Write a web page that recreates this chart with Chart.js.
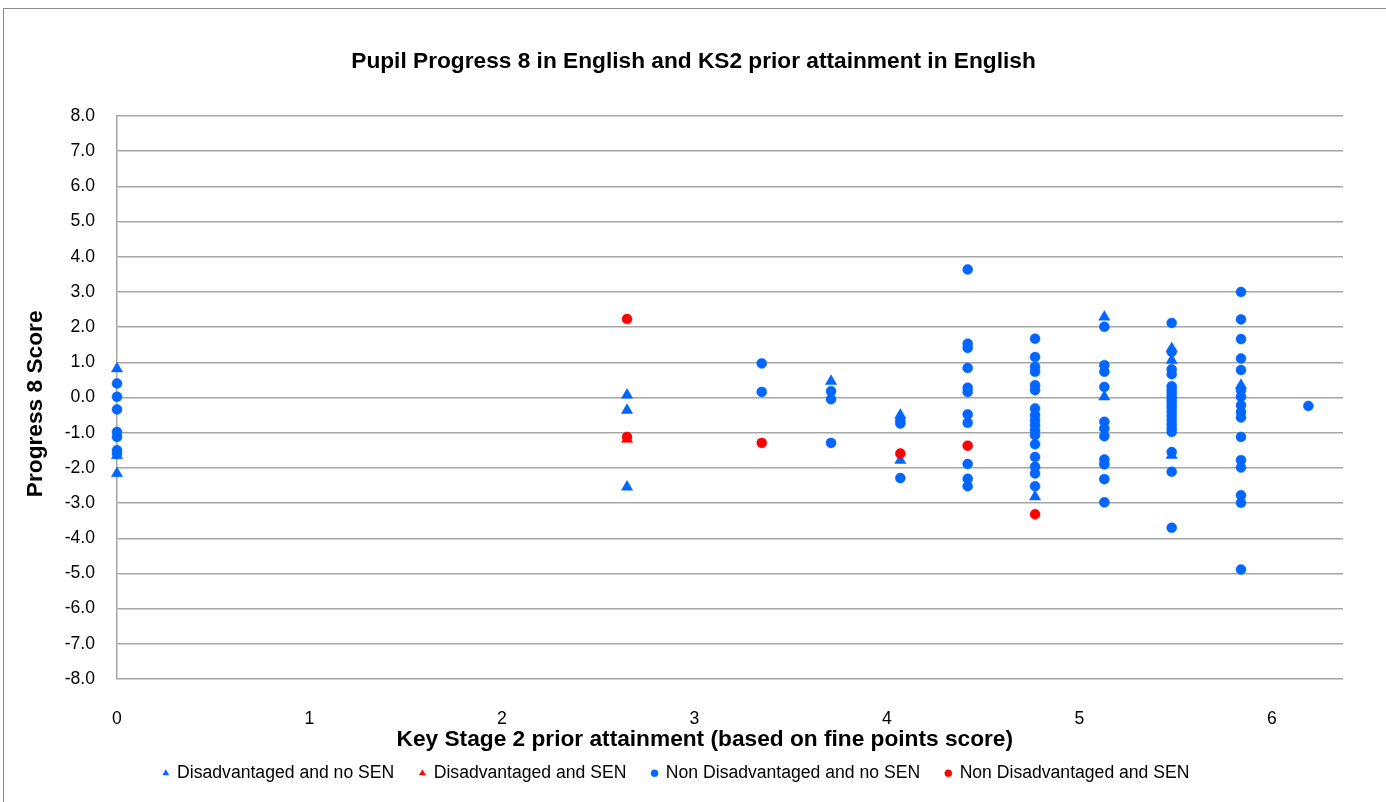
<!DOCTYPE html>
<html>
<head>
<meta charset="utf-8">
<title>Pupil Progress 8 in English</title>
<script src="https://cdn.jsdelivr.net/npm/chart.js@4.4.1/dist/chart.umd.min.js"></script>
<style>
  html, body { margin: 0; padding: 0; background: #fff; overflow: hidden; }
  #frame { position: absolute; left: 3px; top: 8px; width: 1420px; height: 820px;
           border-left: 1px solid #8c8c8c; border-top: 1px solid #8c8c8c; }
  #wrap { position: absolute; left: 0; top: 0; width: 1386px; height: 802px; }
</style>
</head>
<body>
<div id="frame"></div>
<div id="wrap"><canvas id="chart"></canvas></div>
<script>
const FONT = 'Arial, "Liberation Sans", sans-serif';
const BLUE = '#0066ff';
const RED = '#ff0000';

const chartTitle = 'Pupil Progress 8 in English and KS2 prior attainment in English';
const xTitle = 'Key Stage 2 prior attainment (based on fine points score)';
const yTitle = 'Progress 8 Score';

const seriesNames = [
    'Disadvantaged and no SEN',
    'Disadvantaged and SEN',
    'Non Disadvantaged and no SEN',
    'Non Disadvantaged and SEN'
];

const xTickValues = [0, 1, 2, 3, 4, 5, 6];
const yTickValues = [-8, -7, -6, -5, -4, -3, -2, -1, 0, 1, 2, 3, 4, 5, 6, 7, 8];

// [KS2 fine points, Progress 8 score]
const disadvNoSen = [
    [0, 0.82], [0, -1.65], [0, -2.16],
    [2.65, 0.07], [2.65, -0.36], [2.65, -2.54],
    [3.71, 0.46],
    [4.07, -0.50], [4.07, -1.78],
    [4.77, -2.82],
    [5.13, 2.29], [5.13, 0.02],
    [5.48, 1.39], [5.48, 1.06], [5.48, -1.64],
    [5.84, 0.35]
];

const disadvSen = [
    [2.65, -1.18]
];

const nonDisadvNoSen = [
    [0, 0.40], [0, 0.02], [0, -0.34], [0, -0.98], [0, -1.12], [0, -1.50], [0, -1.60],
    [3.35, 0.97], [3.35, 0.16],
    [3.71, 0.18], [3.71, -0.05], [3.71, -1.29],
    [4.07, -0.65], [4.07, -0.74], [4.07, -2.29],
    [4.42, 3.64], [4.42, 1.53], [4.42, 1.41], [4.42, 0.84], [4.42, 0.28], [4.42, 0.16],
    [4.42, -0.48], [4.42, -0.72], [4.42, -1.89], [4.42, -2.31], [4.42, -2.52],
    [4.77, 1.67], [4.77, 1.15], [4.77, 0.87], [4.77, 0.73], [4.77, 0.35], [4.77, 0.21],
    [4.77, -0.31], [4.77, -0.50], [4.77, -0.65], [4.77, -0.79], [4.77, -0.93], [4.77, -1.07],
    [4.77, -1.33], [4.77, -1.69], [4.77, -1.97], [4.77, -2.16], [4.77, -2.52],
    [5.13, 2.01], [5.13, 0.92], [5.13, 0.73], [5.13, 0.30], [5.13, -0.69], [5.13, -0.88],
    [5.13, -1.10], [5.13, -1.76], [5.13, -1.90], [5.13, -2.32], [5.13, -2.98],
    [5.48, 2.12], [5.48, 1.30], [5.48, 0.80], [5.48, 0.66], [5.48, 0.32], [5.48, 0.22],
    [5.48, 0.12], [5.48, 0.02], [5.48, -0.08], [5.48, -0.18], [5.48, -0.28], [5.48, -0.40],
    [5.48, -0.52], [5.48, -0.64], [5.48, -0.76], [5.48, -0.88], [5.48, -0.98], [5.48, -1.55],
    [5.48, -2.11], [5.48, -3.70],
    [5.84, 3.00], [5.84, 2.22], [5.84, 1.66], [5.84, 1.11], [5.84, 0.78], [5.84, 0.21],
    [5.84, 0.02], [5.84, -0.22], [5.84, -0.41], [5.84, -0.57], [5.84, -1.12], [5.84, -1.78],
    [5.84, -1.99], [5.84, -2.78], [5.84, -2.99], [5.84, -4.89],
    [6.19, -0.24]
];

const nonDisadvSen = [
    [2.65, 2.23], [2.65, -1.12],
    [3.35, -1.29],
    [4.07, -1.59],
    [4.42, -1.37],
    [4.77, -3.32]
];

const toPoints = arr => arr.map(p => ({ x: p[0], y: p[1] }));

function series(i, data, color, style, order) {
    return {
        label: seriesNames[i],
        data: toPoints(data),
        pointStyle: style,
        pointRadius: style === 'triangle' ? 6.5 : 5,
        pointHoverRadius: style === 'triangle' ? 6.5 : 5,
        backgroundColor: color,
        borderColor: color,
        borderWidth: 0.5,
        showLine: false,
        clip: false,
        order: order
    };
}

// spaces widen the gaps between legend entries and nudge axis titles off-centre
const legendGap = '   ';
const legendTail = '       ';

const TICK_FONT = { family: FONT, size: 17.6 };
const HEAD_FONT = { family: FONT, size: 22.7, weight: 'bold' };

new Chart(document.getElementById('chart'), {
    type: 'scatter',
    data: {
        datasets: [
            series(0, disadvNoSen, BLUE, 'triangle', 4),
            series(1, disadvSen, RED, 'triangle', 3),
            series(2, nonDisadvNoSen, BLUE, 'circle', 2),
            series(3, nonDisadvSen, RED, 'circle', 1)
        ]
    },
    options: {
        responsive: true,
        maintainAspectRatio: false,
        animation: false,
        layout: { padding: { left: 1, right: 0, top: 0, bottom: 10 } },
        plugins: {
            title: {
                display: true,
                text: chartTitle,
                color: '#000',
                font: HEAD_FONT,
                padding: { top: 48.4, bottom: 40.4 }
            },
            legend: {
                position: 'bottom',
                labels: {
                    usePointStyle: true,
                    boxWidth: 5,
                    boxHeight: 5,
                    padding: 11,
                    color: '#000',
                    font: TICK_FONT,
                    generateLabels(chart) {
                        const items = Chart.defaults.plugins.legend.labels.generateLabels(chart);
                        items.sort((a, b) => a.datasetIndex - b.datasetIndex);
                        items.forEach((it, i) => {
                            it.text = seriesNames[it.datasetIndex] + (i < items.length - 1 ? legendGap : legendTail);
                        });
                        return items;
                    }
                }
            },
            tooltip: { enabled: false }
        },
        scales: {
            x: {
                type: 'linear',
                min: 0,
                max: 6.37,
                afterBuildTicks: s => { s.ticks = xTickValues.map(v => ({ value: v })); },
                afterFit: s => { s.height = 74.4; },
                grid: { display: false },
                border: { display: false },
                ticks: {
                    padding: 21.5,
                    color: '#000',
                    font: TICK_FONT,
                    callback: v => String(v)
                },
                title: {
                    display: true,
                    text: xTitle + '        ',
                    color: '#000',
                    font: HEAD_FONT,
                    padding: { top: 0, bottom: 0 }
                }
            },
            y: {
                min: -8,
                max: 8,
                afterBuildTicks: s => { s.ticks = yTickValues.map(v => ({ value: v })); },
                afterFit: s => { s.width = 116; },
                grid: { color: '#a6a6a6', lineWidth: 1.5, drawTicks: false },
                border: { display: true, color: '#a6a6a6', width: 1.5 },
                ticks: {
                    padding: 22,
                    color: '#000',
                    font: TICK_FONT,
                    callback: v => v.toFixed(1)
                },
                title: {
                    display: true,
                    text: yTitle + '  ',
                    color: '#000',
                    font: HEAD_FONT,
                    padding: { top: 21.4, bottom: 0 }
                }
            },
            // empty right-hand box keeps the plot clear of the right edge
            y2: {
                position: 'right',
                display: true,
                afterFit: s => { s.width = 43; },
                grid: { display: false },
                border: { display: false },
                ticks: { display: false }
            }
        }
    }
});
</script>
</body>
</html>
